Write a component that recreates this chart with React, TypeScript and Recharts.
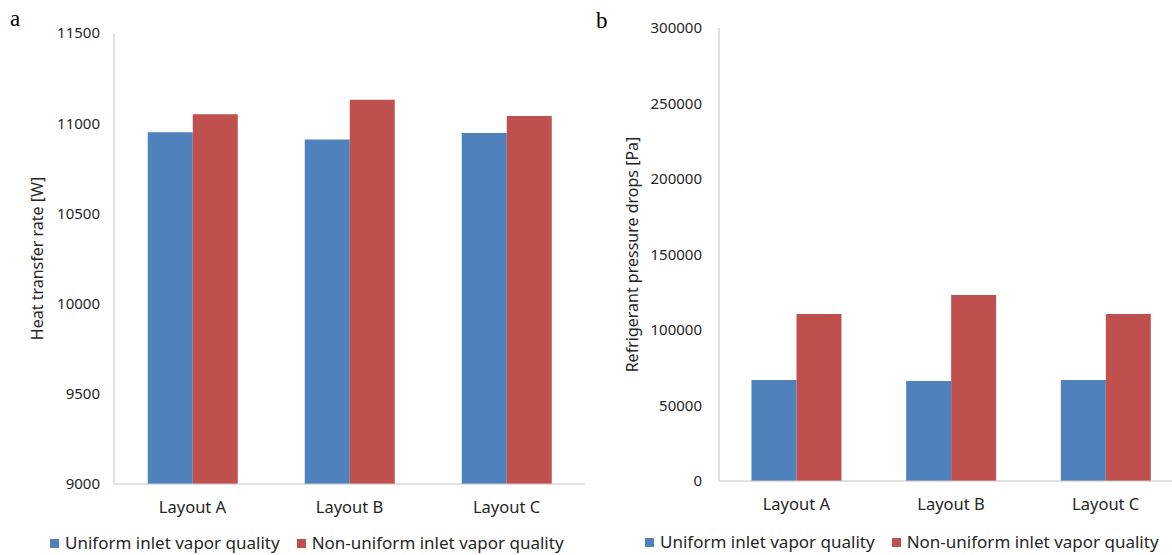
import { BarChart, Bar, XAxis, YAxis, Label } from "recharts";

const layouts = ["Layout A", "Layout B", "Layout C"];

// heat transfer rate [W]
const heatUniform = [10950, 10910, 10945];
const heatNonUniform = [11050, 11130, 11040];
const heatTicks = [9000, 9500, 10000, 10500, 11000, 11500];

// refrigerant pressure drops [Pa]
const dropUniform = [66900, 66200, 66900];
const dropNonUniform = [110600, 123200, 110600];
const dropTicks = [0, 50000, 100000, 150000, 200000, 250000, 300000];

const seriesNames = ["Uniform inlet vapor quality", "Non-uniform inlet vapor quality"];

const BLUE = "#4f81bd";
const RED = "#c0504d";
const AXIS = "#c4c4c4";
const TEXT = "#262626";
const FONT = "'Noto Sans', 'Open Sans', sans-serif";

const heatData = layouts.map((name, i) => ({
  name,
  uniform: heatUniform[i],
  nonUniform: heatNonUniform[i],
}));

const dropData = layouts.map((name, i) => ({
  name,
  uniform: dropUniform[i],
  nonUniform: dropNonUniform[i],
}));

function LegendRow({ left, top }: { left: number; top: number }) {
  const colors = [BLUE, RED];
  return (
    <div style={{ position: "absolute", left, top, display: "flex", alignItems: "center", fontFamily: FONT, fontSize: 17, lineHeight: "22px", color: TEXT, whiteSpace: "nowrap" }}>
      {seriesNames.map((n, i) => (
        <div key={n} style={{ display: "flex", alignItems: "center", marginRight: 17 }}>
          <div style={{ width: 9, height: 9, background: colors[i], marginRight: 6 }} />
          <span>{n}</span>
        </div>
      ))}
    </div>
  );
}

// rotated y-axis title, placed relative to the axis box
function AxisTitle({ viewBox, text, offset }: any) {
  const x = viewBox.x + viewBox.width - offset;
  const y = viewBox.y + viewBox.height / 2;
  return (
    <text x={x} y={y} transform={`rotate(-90 ${x} ${y})`} textAnchor="middle" dominantBaseline="central"
      fontFamily={FONT} fontSize={16} fill={TEXT}>
      {text}
    </text>
  );
}

const tickStyle = { fontFamily: FONT, fontSize: 15, fill: TEXT };
const catTickStyle = { fontFamily: FONT, fontSize: 16.5, fill: TEXT };

export default function App() {
  return (
    <div style={{ position: "fixed", left: 0, top: 0, width: 1172, height: 555, overflow: "hidden", background: "#fff" }}>
      <div style={{ position: "absolute", left: 10, top: 6, fontFamily: "'Liberation Serif', serif", fontSize: 23 }}>a</div>
      <div style={{ position: "absolute", left: 596, top: 8, fontFamily: "'Liberation Serif', serif", fontSize: 23 }}>b</div>

      <div style={{ position: "absolute", left: 0, top: 0 }}>
        <BarChart width={600} height={555} data={heatData} barGap={0} barCategoryGap="21.5%"
          margin={{ top: 33, right: 15, bottom: 41, left: 0 }}>
          <XAxis dataKey="name" stroke={AXIS} tickLine={false} tickSize={0} tickMargin={17} tick={catTickStyle} height={30} />
          <YAxis width={114} domain={[9000, 11500]} ticks={heatTicks} stroke={AXIS} tickLine={false} tickSize={0}
            tickMargin={14} tick={tickStyle} interval={0}>
            <Label content={(p: any) => <AxisTitle {...p} text="Heat transfer rate [W]" offset={77} />} />
          </YAxis>
          <Bar dataKey="uniform" name={seriesNames[0]} fill={BLUE} isAnimationActive={false} />
          <Bar dataKey="nonUniform" name={seriesNames[1]} fill={RED} isAnimationActive={false} />
        </BarChart>
      </div>
      <LegendRow left={50} top={532} />

      <div style={{ position: "absolute", left: 590, top: 0 }}>
        <BarChart width={608} height={555} data={dropData} barGap={0} barCategoryGap="21%"
          margin={{ top: 28, right: 15, bottom: 44, left: 0 }}>
          <XAxis dataKey="name" stroke={AXIS} tickLine={false} tickSize={0} tickMargin={17} tick={catTickStyle} height={30} />
          <YAxis width={129} domain={[0, 300000]} ticks={dropTicks} stroke={AXIS} tickLine={false} tickSize={0}
            tickMargin={17} tick={tickStyle} interval={0}>
            <Label content={(p: any) => <AxisTitle {...p} text="Refrigerant pressure drops [Pa]" offset={87} />} />
          </YAxis>
          <Bar dataKey="uniform" name={seriesNames[0]} fill={BLUE} isAnimationActive={false} />
          <Bar dataKey="nonUniform" name={seriesNames[1]} fill={RED} isAnimationActive={false} />
        </BarChart>
      </div>
      <LegendRow left={645} top={531} />
    </div>
  );
}
